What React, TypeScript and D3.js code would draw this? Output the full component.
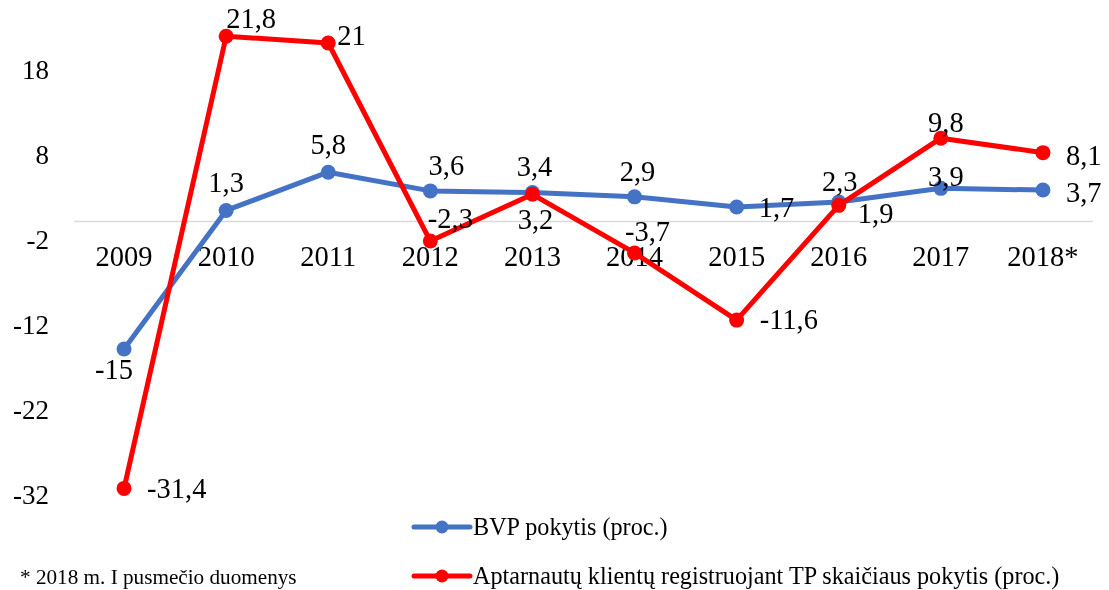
import React, { useEffect, useRef } from "react";
import * as d3 from "d3";

const years = ["2009", "2010", "2011", "2012", "2013", "2014", "2015", "2016", "2017", "2018*"];
const bvp = [-15, 1.3, 5.8, 3.6, 3.4, 2.9, 1.7, 2.3, 3.9, 3.7];
const clients = [-31.4, 21.8, 21, -2.3, 3.2, -3.7, -11.6, 1.9, 9.8, 8.1];
const yTicks = [18, 8, -2, -12, -22, -32];

// label offsets [dx, dy, anchor] relative to each point
const bvpLabelPos: [number, number, string][] = [
  [-10, 30, "middle"],
  [0, -18, "middle"],
  [0, -18, "middle"],
  [16, -16, "middle"],
  [2, -17, "middle"],
  [3, -16, "middle"],
  [22, 10, "start"],
  [1, -11, "middle"],
  [5, -2, "middle"],
  [23, 12, "start"],
];
const clientLabelPos: [number, number, string][] = [
  [23, 10, "start"],
  [25, -8, "middle"],
  [9, 2, "start"],
  [20, -13, "middle"],
  [3, 35, "middle"],
  [13, -12, "middle"],
  [23, 9, "start"],
  [19, 18, "start"],
  [5, -6, "middle"],
  [23, 12, "start"],
];

const font = "Liberation Serif, Tinos, Times New Roman, DejaVu Serif, serif";

const LineChart: React.FC = () => {
  const svgRef = useRef<SVGSVGElement>(null);

  useEffect(() => {
    const svg = d3.select(svgRef.current);
    svg.selectAll("*").remove();

    const x = d3.scaleBand().domain(years).range([73, 1094]);
    const cx = (d: string) => x(d)! + x.bandwidth() / 2;
    const y = d3.scaleLinear().domain([-32, 18]).range([493.5, 68.5]);

    // zero line
    svg
      .append("line")
      .attr("x1", 74)
      .attr("x2", 1093)
      .attr("y1", y(0))
      .attr("y2", y(0))
      .attr("stroke", "#d9d9d9")
      .attr("stroke-width", 1.5);

    // y tick labels
    svg
      .append("g")
      .selectAll("text")
      .data(yTicks)
      .enter()
      .append("text")
      .attr("x", 49)
      .attr("y", (d) => y(d) + 10)
      .attr("text-anchor", "end")
      .text((d) => String(d));

    // category labels
    svg
      .append("g")
      .selectAll("text")
      .data(years)
      .enter()
      .append("text")
      .attr("x", (d) => cx(d))
      .attr("y", 266)
      .attr("text-anchor", "middle")
      .attr("font-size", 28.5)
      .text((d) => d);

    const series = [
      { values: bvp, color: "#4472C4", labels: bvpLabelPos },
      { values: clients, color: "#FF0000", labels: clientLabelPos },
    ];

    const line = d3
      .line<number>()
      .x((_, i) => cx(years[i]))
      .y((d) => y(d));

    series.forEach((s) => {
      const g = svg.append("g");
      g.append("path")
        .datum(s.values)
        .attr("fill", "none")
        .attr("stroke", s.color)
        .attr("stroke-width", 5)
        .attr("stroke-linejoin", "round")
        .attr("d", line);

      g.selectAll("circle")
        .data(s.values)
        .enter()
        .append("circle")
        .attr("cx", (_, i) => cx(years[i]))
        .attr("cy", (d) => y(d))
        .attr("r", 7.5)
        .attr("fill", s.color);
    });

    // data labels drawn on top
    series.forEach((s) => {
      svg
        .append("g")
        .selectAll("text")
        .data(s.values)
        .enter()
        .append("text")
        .attr("x", (_, i) => cx(years[i]) + s.labels[i][0])
        .attr("y", (d, i) => y(d) + s.labels[i][1])
        .attr("text-anchor", (_, i) => s.labels[i][2])
        .attr("font-size", 28.5)
        .text((d) => String(d).replace(".", ","));
    });

    // legend
    const legend = [
      { label: "BVP pokytis (proc.)", color: "#4472C4", y: 527 },
      {
        label: "Aptarnautų klientų registruojant TP skaičiaus pokytis (proc.)",
        color: "#FF0000",
        y: 576,
      },
    ];
    legend.forEach((l) => {
      svg
        .append("line")
        .attr("x1", 414)
        .attr("x2", 470)
        .attr("y1", l.y)
        .attr("y2", l.y)
        .attr("stroke", l.color)
        .attr("stroke-width", 5)
        .attr("stroke-linecap", "round");
      svg.append("circle").attr("cx", 442).attr("cy", l.y).attr("r", 6.5).attr("fill", l.color);
      svg
        .append("text")
        .attr("x", 473)
        .attr("y", l.y + 8)
        .attr("font-size", 24.2)
        .text(l.label);
    });

    svg
      .append("text")
      .attr("x", 20)
      .attr("y", 584)
      .attr("font-size", 21.2)
      .text("* 2018 m. I pusmečio duomenys");
  }, []);

  return (
    <svg
      ref={svgRef}
      width={1109}
      height={590}
      fontFamily={font}
      fontSize={27}
      style={{ display: "block", fontFamily: font }}
    ></svg>
  );
};

export default function App() {
  return (
    <div style={{ position: "fixed", left: 0, top: 0, width: 1109, height: 590, overflow: "hidden" }}>
      <LineChart />
    </div>
  );
}
